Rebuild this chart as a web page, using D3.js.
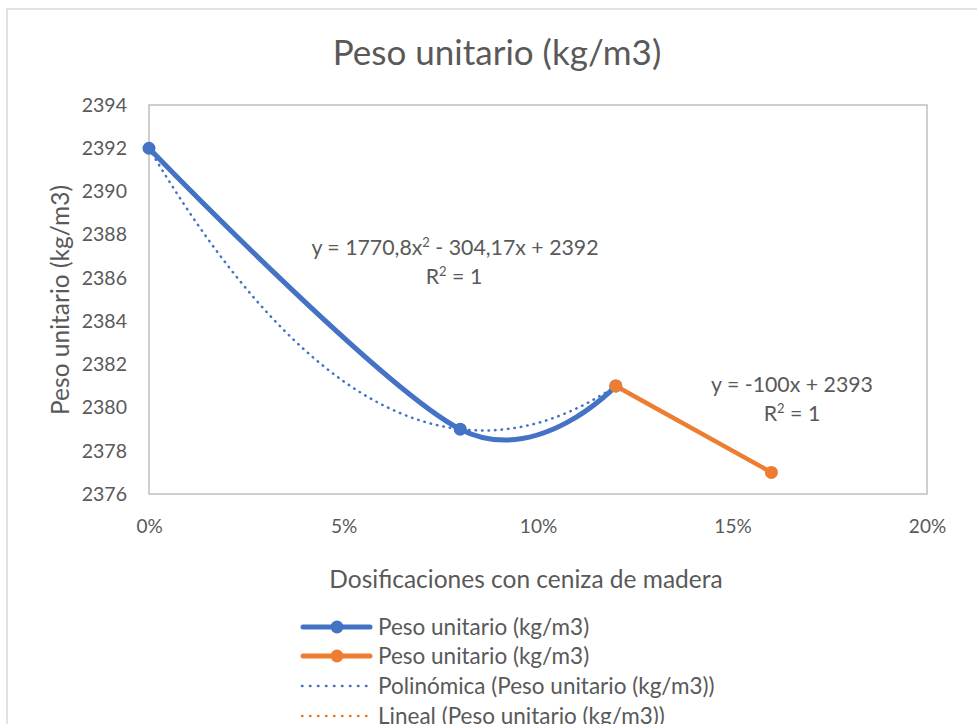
<!DOCTYPE html>
<html>
<head>
<meta charset="utf-8">
<script src="https://cdn.jsdelivr.net/npm/d3@7"></script>
<style>
  html, body { margin: 0; padding: 0; background: #fff; }
  svg { display: block; }
  text { font-family: Lato, "Open Sans", sans-serif; fill: #595959; }
</style>
</head>
<body>
<svg id="chart" width="977" height="724"></svg>
<script>
// Dosage of wood ash (fraction) and measured unit weight (kg/m3)
const blueX = [0, 0.08, 0.12];
const blueY = [2392, 2379, 2381];
const orangeX = [0.12, 0.16];
const orangeY = [2381, 2377];

// Trendline coefficients (highest power first)
const polyCoef = [1770.8, -304.17, 2392];
const linCoef = [-100, 2393];

const xTicks = [0, 0.05, 0.10, 0.15, 0.20];
const yTicks = [2376, 2378, 2380, 2382, 2384, 2386, 2388, 2390, 2392, 2394];

const title = "Peso unitario (kg/m3)";
const xTitle = "Dosificaciones con ceniza de madera";
const yTitle = "Peso unitario (kg/m3)";
const legendLabels = [
  "Peso unitario (kg/m3)",
  "Peso unitario (kg/m3)",
  "Polinómica (Peso unitario (kg/m3))",
  "Lineal (Peso unitario (kg/m3))"
];

const BLUE = "#4472C4", ORANGE = "#ED7D31";
const svg = d3.select("#chart");

// outer chart frame
svg.append("rect").attr("x", 7).attr("y", 9).attr("width", 990).attr("height", 740)
  .attr("fill", "none").attr("stroke", "#D9D9D9").attr("stroke-width", 1.5);

const plot = { left: 149, right: 927, top: 105, bottom: 494 };
const x = d3.scaleLinear().domain([0, 0.20]).range([plot.left, plot.right]);
const y = d3.scaleLinear().domain([2376, 2394]).range([plot.bottom, plot.top]);

// plot area border
svg.append("rect").attr("x", plot.left).attr("y", plot.top)
  .attr("width", plot.right - plot.left).attr("height", plot.bottom - plot.top)
  .attr("fill", "none").attr("stroke", "#BFBFBF").attr("stroke-width", 1.5);

// title
svg.append("text").attr("x", 497).attr("y", 65).attr("text-anchor", "middle")
  .attr("font-size", 35).text(title);

// axes (labels only, no tick marks)
const yAxis = d3.axisLeft(y).tickValues(yTicks).tickSize(0).tickPadding(22).tickFormat(d3.format("d"));
const yg = svg.append("g").attr("transform", `translate(${plot.left},0)`).call(yAxis);
yg.select(".domain").remove();
yg.selectAll("text").attr("font-size", 19.5).attr("font-family", "Lato, sans-serif").attr("fill", "#595959");

const xAxis = d3.axisBottom(x).tickValues(xTicks).tickSize(0).tickPadding(26).tickFormat(d3.format(".0%"));
const xg = svg.append("g").attr("transform", `translate(0,${plot.bottom})`).call(xAxis);
xg.select(".domain").remove();
xg.selectAll("text").attr("font-size", 19).attr("font-family", "Lato, sans-serif").attr("fill", "#595959");

// axis titles
svg.append("text").attr("transform", "translate(69,300) rotate(-90)")
  .attr("text-anchor", "middle").attr("font-size", 24.5).text(yTitle);
svg.append("text").attr("x", 526).attr("y", 588).attr("text-anchor", "middle")
  .attr("font-size", 24.5).text(xTitle);

// trendlines
const polyFn = v => polyCoef[0] * v * v + polyCoef[1] * v + polyCoef[2];
const linFn = v => linCoef[0] * v + linCoef[1];
const polyPts = d3.range(0, 121).map(i => [i / 1000, polyFn(i / 1000)]);
const linPts = [orangeX[0], orangeX[1]].map(v => [v, linFn(v)]);
const line = d3.line().x(d => x(d[0])).y(d => y(d[1]));

svg.append("path").datum(linPts).attr("d", line)
  .attr("fill", "none").attr("stroke", ORANGE).attr("stroke-width", 2.5)
  .attr("stroke-dasharray", "2.5 4").attr("stroke-linecap", "round");

// series lines
const blueData = blueX.map((v, i) => [v, blueY[i]]);
const orangeData = orangeX.map((v, i) => [v, orangeY[i]]);
const smooth = d3.line().x(d => x(d[0])).y(d => y(d[1])).curve(d3.curveCardinal.tension(0));

svg.append("path").datum(blueData).attr("d", smooth)
  .attr("fill", "none").attr("stroke", BLUE).attr("stroke-width", 5).attr("stroke-linecap", "round");
svg.append("path").datum(orangeData).attr("d", line)
  .attr("fill", "none").attr("stroke", ORANGE).attr("stroke-width", 4.5).attr("stroke-linecap", "round");

svg.append("path").datum(polyPts).attr("d", line)
  .attr("fill", "none").attr("stroke", BLUE).attr("stroke-width", 2.5)
  .attr("stroke-dasharray", "0.5 6").attr("stroke-linecap", "round");

// markers
svg.selectAll(".mb").data(blueData).join("circle")
  .attr("cx", d => x(d[0])).attr("cy", d => y(d[1])).attr("r", 6.5).attr("fill", BLUE);
svg.selectAll(".mo").data(orangeData).join("circle")
  .attr("cx", d => x(d[0])).attr("cy", d => y(d[1])).attr("r", 6.5).attr("fill", ORANGE);

// trendline equations
function eqLabel(cx, cy, parts) {
  const t = svg.append("text").attr("x", cx).attr("y", cy).attr("text-anchor", "middle").attr("font-size", 21.3);
  parts.forEach(p => {
    const s = t.append("tspan").text(p.t);
    if (p.sup) s.attr("font-size", 13).attr("dy", -8);
    if (p.down) s.attr("dy", 8);
  });
}
eqLabel(455, 255, [
  { t: "y = " + String(polyCoef[0]).replace(".", ",") + "x" },
  { t: "2", sup: true },
  { t: " - " + String(-polyCoef[1]).replace(".", ",") + "x + " + polyCoef[2], down: true }
]);
eqLabel(454, 284, [{ t: "R" }, { t: "2", sup: true }, { t: " = 1", down: true }]);
eqLabel(792, 392, [{ t: "y = " + linCoef[0] + "x + " + linCoef[1] }]);
eqLabel(792, 421, [{ t: "R" }, { t: "2", sup: true }, { t: " = 1", down: true }]);

// legend
const legY = [627, 656, 686, 716];
const lg = svg.append("g");
[0, 1].forEach(i => {
  const c = i === 0 ? BLUE : ORANGE;
  lg.append("line").attr("x1", 303).attr("x2", 370).attr("y1", legY[i]).attr("y2", legY[i])
    .attr("stroke", c).attr("stroke-width", 5).attr("stroke-linecap", "round");
  lg.append("circle").attr("cx", 337).attr("cy", legY[i]).attr("r", 6.5).attr("fill", c);
});
[2, 3].forEach(i => {
  const c = i === 2 ? BLUE : ORANGE;
  lg.append("line").attr("x1", 302).attr("x2", 370).attr("y1", legY[i]).attr("y2", legY[i])
    .attr("stroke", c).attr("stroke-width", 2.5).attr("stroke-dasharray", "0.5 7.5")
    .attr("stroke-linecap", "round");
});
legendLabels.forEach((l, i) => {
  lg.append("text").attr("x", 378).attr("y", legY[i] + 7.5).attr("font-size", 22.5).text(l);
});
</script>
</body>
</html>
